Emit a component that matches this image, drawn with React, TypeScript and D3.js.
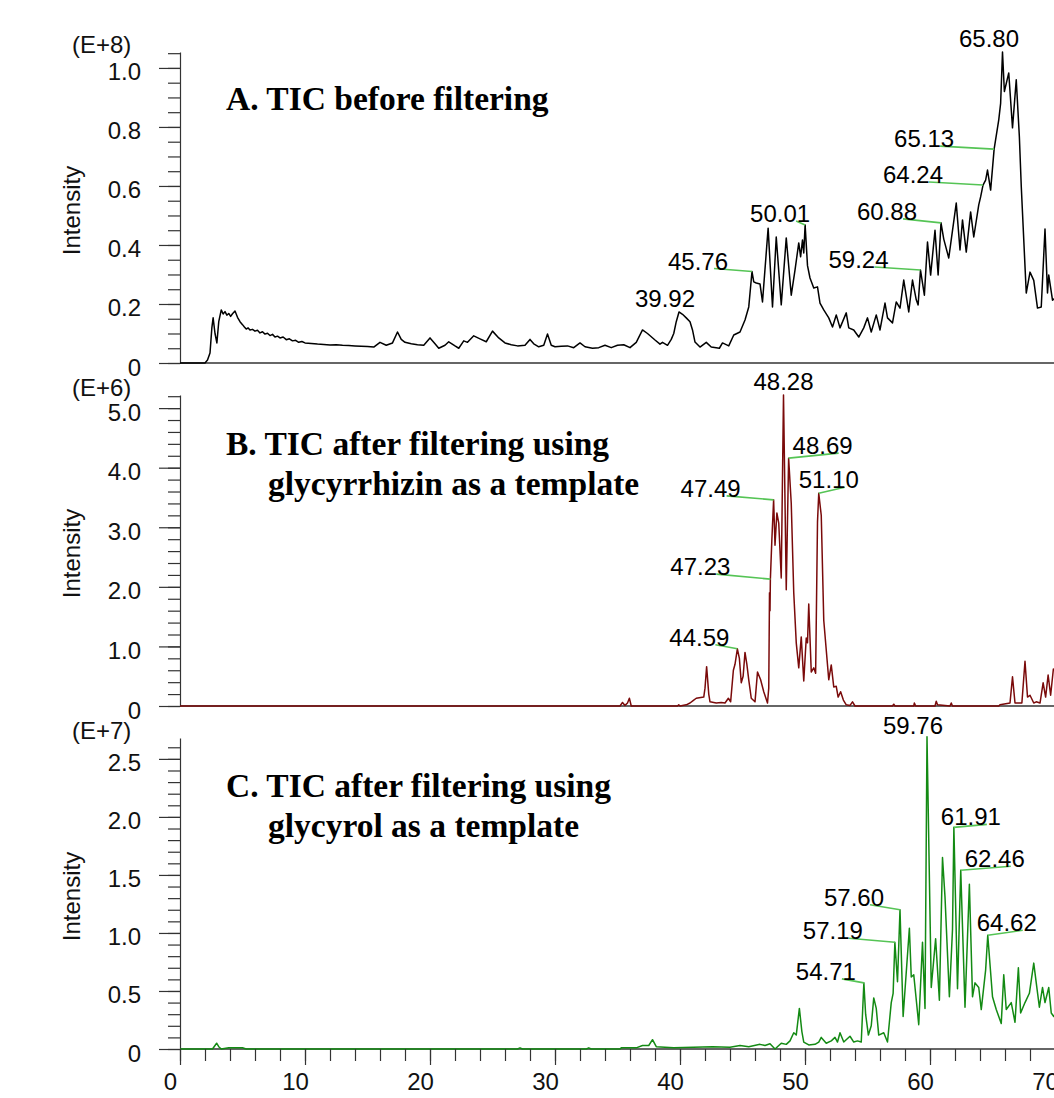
import React, { useRef, useEffect } from "react";
import * as d3 from "d3";

// retention time (min), intensity in panel units
const traceA: [number, number][] = [
  [0, 0], [2.0, 0], [2.2, 0.01], [2.4, 0.034], [2.55, 0.12], [2.65, 0.153], [2.8, 0.1], [2.95, 0.068],
  [3.1, 0.14], [3.3, 0.18], [3.45, 0.166], [3.6, 0.174], [3.75, 0.162], [3.9, 0.168], [4.05, 0.158], [4.2, 0.167],
  [4.4, 0.176], [4.6, 0.155], [4.8, 0.14], [5.0, 0.13], [5.15, 0.122], [5.3, 0.115], [5.45, 0.119], [5.6, 0.112],
  [5.8, 0.114], [6.0, 0.108], [6.2, 0.111], [6.4, 0.102], [6.6, 0.106], [6.8, 0.098], [7.0, 0.101], [7.2, 0.093],
  [7.4, 0.097], [7.6, 0.088], [7.8, 0.091], [8.0, 0.085], [8.25, 0.088], [8.5, 0.079], [8.75, 0.082], [9.0, 0.075],
  [9.25, 0.077], [9.5, 0.07], [9.75, 0.073], [10, 0.068], [10.5, 0.066], [11, 0.064], [11.5, 0.063], [12, 0.061],
  [12.5, 0.062], [13, 0.06], [13.5, 0.059], [14, 0.058], [14.5, 0.057], [15, 0.056], [15.5, 0.054], [16.0, 0.07],
  [16.5, 0.06], [17.0, 0.068], [17.4, 0.105], [17.7, 0.08], [18.0, 0.07], [18.5, 0.065], [19.0, 0.062], [19.5, 0.06],
  [20.0, 0.085], [20.4, 0.065], [20.7, 0.05], [21.2, 0.06], [21.5, 0.072], [22.0, 0.058], [22.3, 0.05], [22.7, 0.075],
  [23.0, 0.07], [23.5, 0.092], [24.0, 0.082], [24.5, 0.072], [25.0, 0.108], [25.5, 0.085], [26.0, 0.068], [26.5, 0.062],
  [27.0, 0.058], [27.6, 0.06], [28.0, 0.08], [28.3, 0.065], [28.7, 0.055], [29.1, 0.06], [29.4, 0.098], [29.7, 0.06],
  [30.0, 0.055], [30.5, 0.057], [31.0, 0.058], [31.5, 0.052], [32.0, 0.068], [32.4, 0.055], [33.0, 0.05], [33.5, 0.052],
  [34.0, 0.06], [34.5, 0.052], [35.0, 0.06], [35.5, 0.062], [36.0, 0.052], [36.5, 0.07], [37.0, 0.112], [37.4, 0.1],
  [38.0, 0.078], [38.4, 0.064], [38.6, 0.07], [39.0, 0.06], [39.3, 0.08], [39.5, 0.1], [39.7, 0.14], [39.92, 0.173],
  [40.2, 0.165], [40.5, 0.153], [40.8, 0.14], [41.0, 0.112], [41.2, 0.071], [41.6, 0.054], [42.1, 0.07], [42.5, 0.054],
  [43.15, 0.05], [43.4, 0.068], [43.9, 0.058], [44.3, 0.095], [44.8, 0.105], [45.2, 0.146], [45.5, 0.19], [45.76, 0.31],
  [45.9, 0.275], [46.1, 0.271], [46.4, 0.268], [46.6, 0.207], [47.05, 0.457], [47.4, 0.19], [47.7, 0.427], [48.1, 0.197],
  [48.5, 0.424], [48.9, 0.23], [49.2, 0.315], [49.5, 0.407], [49.65, 0.36], [49.8, 0.417], [49.9, 0.373], [50.01, 0.468],
  [50.2, 0.33], [50.4, 0.288], [50.7, 0.254], [51.0, 0.258], [51.2, 0.203], [51.5, 0.18], [51.9, 0.153], [52.2, 0.122],
  [52.5, 0.163], [52.8, 0.119], [53.3, 0.17], [53.5, 0.119], [53.9, 0.112], [54.3, 0.088], [54.7, 0.119], [55.0, 0.153],
  [55.3, 0.105], [55.7, 0.163], [56.0, 0.112], [56.4, 0.203], [56.6, 0.153], [57.0, 0.136], [57.3, 0.207], [57.6, 0.186],
  [57.9, 0.281], [58.3, 0.173], [58.6, 0.281], [58.9, 0.214], [59.05, 0.197], [59.24, 0.315], [59.55, 0.23], [59.8, 0.41],
  [60.05, 0.298], [60.4, 0.45], [60.65, 0.298], [60.88, 0.475], [61.1, 0.42], [61.5, 0.356], [62.1, 0.542], [62.4, 0.383],
  [62.6, 0.485], [62.9, 0.376], [63.25, 0.512], [63.5, 0.427], [63.9, 0.536], [64.05, 0.563], [64.24, 0.603], [64.45, 0.62],
  [64.6, 0.654], [64.85, 0.586], [65.13, 0.725], [65.5, 0.824], [65.65, 0.88], [65.8, 1.054], [65.95, 0.92], [66.3, 0.983],
  [66.6, 0.797], [66.9, 0.96], [67.15, 0.766], [67.3, 0.6], [67.7, 0.237], [68.0, 0.308], [68.3, 0.28], [68.6, 0.186],
  [68.9, 0.19], [69.2, 0.454], [69.4, 0.237], [69.5, 0.298], [69.8, 0.213], [70, 0.22],
];

const traceB: [number, number][] = [
  [0, 0], [35.2, 0], [35.4, 0.06], [35.6, 0.01], [35.8, 0.05], [35.95, 0.13], [36.1, 0], [39.8, 0], [39.9, 0.02],
  [40.0, 0], [40.5, 0.02], [40.8, 0.05], [41.1, 0.1], [41.3, 0.13], [41.9, 0.15], [42.0, 0.3], [42.13, 0.66],
  [42.3, 0.2], [42.4, 0.07], [42.9, 0.05], [43.3, 0.06], [43.6, 0.05], [43.87, 0.13], [44.05, 0.07], [44.27, 0.6],
  [44.4, 0.7], [44.59, 0.96], [44.75, 0.8], [44.9, 0.39], [45.05, 0.5], [45.2, 0.9], [45.35, 0.7], [45.5, 0.44],
  [45.7, 0.13], [46.0, 0.07], [46.2, 0.57], [46.45, 0.44], [46.7, 0.24], [47.0, 0.05], [47.1, 0.3], [47.16, 1.9],
  [47.2, 1.6], [47.23, 2.13], [47.35, 2.8], [47.49, 3.46], [47.6, 2.7], [47.75, 3.24], [47.9, 3.07], [48.1, 2.15],
  [48.28, 5.22], [48.5, 1.95], [48.69, 4.16], [48.9, 3.4], [49.1, 1.9], [49.3, 1.06], [49.5, 0.64], [49.7, 1.16],
  [49.9, 0.42], [50.1, 1.14], [50.2, 1.06], [50.3, 1.71], [50.5, 0.57], [50.7, 0.64], [50.85, 0.55], [51.0, 3.09],
  [51.1, 3.57], [51.3, 3.2], [51.5, 1.44], [51.7, 0.94], [51.9, 0.44], [52.1, 0.69], [52.3, 0.32], [52.5, 0.33],
  [52.65, 0.15], [52.85, 0.24], [53.07, 0.1], [53.3, 0.02], [53.6, 0.01], [53.8, 0.07], [54.0, 0], [57.0, 0],
  [57.1, 0.03], [57.2, 0], [58.7, 0], [58.75, 0.05], [58.85, 0], [60.4, 0], [60.5, 0.08], [60.6, 0.02], [61.6, 0],
  [61.7, 0.05], [61.8, 0], [65.5, 0], [65.6, 0.02], [66.4, 0.05], [66.6, 0.49], [66.8, 0.05], [67.35, 0.05],
  [67.6, 0.75], [67.8, 0.15], [68.0, 0.18], [68.3, 0.05], [68.5, 0.07], [68.8, 0.05], [69.05, 0.39], [69.25, 0.15],
  [69.45, 0.52], [69.65, 0.18], [69.87, 0.62], [70, 0.6],
];

const traceC: [number, number][] = [
  [0, 0], [2.6, 0], [2.8, 0.03], [2.93, 0.05], [3.1, 0.02], [3.3, 0], [3.9, 0.01], [5.0, 0.01], [5.3, 0],
  [27.0, 0], [27.2, 0.01], [27.4, 0], [32.5, 0], [32.7, 0.01], [32.9, 0], [35.2, 0], [35.3, 0.01], [36.5, 0.01],
  [37.0, 0.03], [37.5, 0.03], [37.8, 0.08], [38.1, 0.02], [39.5, 0.01], [42.6, 0.02], [44.0, 0.015], [44.8, 0.03],
  [45.5, 0.02], [46.4, 0.04], [46.8, 0.03], [47.2, 0.045], [47.6, 0], [48.1, 0.05], [48.5, 0.04], [48.8, 0.07],
  [49.1, 0.14], [49.3, 0.12], [49.55, 0.35], [49.75, 0.15], [49.9, 0.06], [50.3, 0.035], [50.8, 0.04], [51.1, 0.06],
  [51.3, 0.1], [51.7, 0.05], [52.1, 0.07], [52.4, 0.1], [52.6, 0.06], [52.8, 0.14], [53.1, 0.06], [53.6, 0.11],
  [53.9, 0.06], [54.2, 0.07], [54.5, 0.06], [54.71, 0.57], [54.85, 0.3], [55.07, 0.12], [55.3, 0.2], [55.5, 0.44],
  [55.7, 0.35], [55.9, 0.12], [56.3, 0.14], [56.6, 0.06], [56.9, 0.4], [57.05, 0.48], [57.19, 0.92], [57.4, 0.58],
  [57.6, 1.2], [57.85, 0.28], [58.35, 1.04], [58.5, 0.62], [58.7, 0.64], [59.1, 0.21], [59.4, 0.92], [59.6, 0.35],
  [59.76, 2.69], [60.1, 0.53], [60.45, 0.95], [60.75, 0.42], [61.0, 1.65], [61.2, 1.31], [61.55, 0.45], [61.8, 1.03],
  [61.91, 1.91], [62.2, 0.52], [62.46, 1.54], [62.8, 0.36], [63.15, 1.42], [63.4, 0.45], [63.6, 0.57], [63.9, 0.53],
  [64.1, 0.34], [64.45, 0.68], [64.62, 0.98], [65.0, 0.45], [65.3, 0.34], [65.7, 0.22], [65.9, 0.64], [66.1, 0.34],
  [66.5, 0.4], [66.8, 0.23], [67.07, 0.7], [67.25, 0.31], [67.6, 0.4], [67.95, 0.48], [68.3, 0.74], [68.5, 0.57],
  [68.75, 0.36], [69.0, 0.53], [69.2, 0.4], [69.5, 0.53], [69.7, 0.31], [69.9, 0.28], [70, 0.3],
];

const peaksA = [39.92, 45.76, 50.01, 59.24, 60.88, 64.24, 65.13, 65.8];
const peaksB = [44.59, 47.23, 47.49, 48.28, 48.69, 51.1];
const peaksC = [54.71, 57.19, 57.6, 59.76, 61.91, 62.46, 64.62];

const xTicks = [0, 10, 20, 30, 40, 50, 60, 70];

// label placement relative to its peak: [dx of text end, dy of baseline, leader line]
const labelPosA: [number, number, boolean][] = [
  [16, -5, false], [-24, -2, true], [5, -3, true], [-32, -2, true],
  [-24, -3, true], [-40, -2, true], [-40, -2, true], [16.5, -5, false],
];
const labelPosB: [number, number, boolean][] = [
  [-8, -3, true], [-40, -4, true], [-33, -3, true], [30, -5, false], [64, -4, true], [40, -5, true],
];
const labelPosC: [number, number, boolean][] = [
  [-8, -3, true], [-32, -3, true], [-16, -4, true], [16, -3, false], [47, -2, true], [64, -3, true], [49, -4, true],
];

const SANS = '"Liberation Sans", Arial, Helvetica, sans-serif';
const SERIF = '"Liberation Serif", "Times New Roman", serif';

const panels = [
  {
    trace: traceA, peaks: peaksA, pos: labelPosA, color: "#000000",
    base: 363, yMax: 1.054, major: d3.range(0, 1.01, 0.2), minor: d3.range(0, 1.06, 0.05),
    fmt: (d: number) => (d === 0 ? "0" : d3.format(".1f")(d)), exp: "(E+8)",
    title: ["A. TIC before filtering"], titleY: 110,
  },
  {
    trace: traceB, peaks: peaksB, pos: labelPosB, color: "#7a0a0a",
    base: 706, yMax: 5.22, major: d3.range(0, 5.01, 1), minor: d3.range(0, 5.21, 0.2),
    fmt: (d: number) => (d === 0 ? "0" : d3.format(".1f")(d)), exp: "(E+6)",
    title: ["B. TIC after filtering using", "glycyrrhizin as a template"], titleY: 455,
  },
  {
    trace: traceC, peaks: peaksC, pos: labelPosC, color: "#138a13",
    base: 1049, yMax: 2.68, major: d3.range(0, 2.51, 0.5), minor: d3.range(0, 2.61, 0.1),
    fmt: (d: number) => (d === 0 ? "0" : d3.format(".1f")(d)), exp: "(E+7)",
    title: ["C. TIC after filtering using", "glycyrol as a template"], titleY: 797,
  },
];

export default function App() {
  const svgRef = useRef<SVGSVGElement>(null);

  useEffect(() => {
    document.body.style.margin = "0";
    const svg = d3.select(svgRef.current);
    svg.selectAll("*").remove();

    const x = d3.scaleLinear().domain([0, 70]).range([180, 1055]);
    const axisColor = "#333";

    panels.forEach((p) => {
      const y = d3.scaleLinear().domain([0, p.yMax]).range([p.base, p.base - 311]);
      const g = svg.append("g");

      // y axis: minor then major ticks
      g.append("g")
        .attr("transform", "translate(180,0)")
        .call(d3.axisLeft(y).tickValues(p.minor).tickSize(12).tickSizeOuter(0).tickFormat(() => ""));
      const yMajor = g.append("g")
        .attr("transform", "translate(180,0)")
        .call(d3.axisLeft(y).tickValues(p.major).tickSize(21).tickPadding(18).tickFormat(p.fmt as any));
      yMajor.select(".domain").remove();
      yMajor.selectAll("text")
        .attr("dy", "0.5em")
        .style("font-family", SANS)
        .style("font-size", "24px")
        .attr("fill", "#111");
      g.selectAll(".tick line, .domain").attr("stroke", axisColor).attr("stroke-width", 1.2);

      // zero line
      g.append("line")
        .attr("x1", 180).attr("x2", 1055)
        .attr("y1", p.base).attr("y2", p.base)
        .attr("stroke", axisColor).attr("stroke-width", 1.5);

      // exponent and axis title
      g.append("text")
        .attr("x", 72).attr("y", p.base - 310)
        .style("font-family", SANS).style("font-size", "24px")
        .attr("fill", "#111")
        .text(p.exp);
      g.append("text")
        .attr("transform", `translate(80,${p.base - 155.5 + 3}) rotate(-90)`)
        .attr("text-anchor", "middle")
        .style("font-family", SANS).style("font-size", "24px")
        .attr("fill", "#111")
        .text("Intensity");

      // panel title
      p.title.forEach((line, i) => {
        g.append("text")
          .attr("x", i === 0 ? 226 : 268)
          .attr("y", p.titleY + i * 40)
          .style("font-family", SERIF).style("font-size", "33.5px").style("font-weight", "bold")
          .attr("fill", "#000")
          .text(line);
      });

      // trace
      const line = d3.line<[number, number]>().x((d) => x(d[0])).y((d) => y(d[1]));
      g.append("path")
        .datum(p.trace)
        .attr("d", line)
        .attr("fill", "none")
        .attr("stroke", p.color)
        .attr("stroke-width", 1.5)
        .attr("stroke-linejoin", "round");

      // peak labels
      p.peaks.forEach((t, i) => {
        const pt = p.trace.reduce((a, b) => (Math.abs(b[0] - t) < Math.abs(a[0] - t) ? b : a));
        const px = x(pt[0]);
        const py = y(pt[1]);
        const [dx, dy, leader] = p.pos[i];
        const tx = px + dx;
        const ty = py + dy;
        if (leader) {
          g.append("line")
            .attr("x1", tx - 14).attr("y1", ty - 1)
            .attr("x2", px).attr("y2", py)
            .attr("stroke", "#55c455").attr("stroke-width", 1.6);
        }
        g.append("text")
          .attr("x", tx).attr("y", ty)
          .attr("text-anchor", "end")
          .style("font-family", SANS).style("font-size", "24px")
          .attr("fill", "#000")
          .text(t.toFixed(2));
      });
    });

    // bottom time axis
    const xMinor = svg.append("g")
      .attr("transform", "translate(0,1049)")
      .call(d3.axisBottom(x).tickValues(d3.range(0, 71, 2)).tickSize(12).tickSizeOuter(0).tickFormat(() => ""));
    xMinor.select(".domain").remove();
    const xMajor = svg.append("g")
      .attr("transform", "translate(0,1049)")
      .call(d3.axisBottom(x).tickValues(xTicks).tickSize(16).tickPadding(8).tickSizeOuter(0).tickFormat(d3.format("d") as any));
    xMajor.select(".domain").remove();
    xMajor.selectAll("text")
      .attr("dx", "-10")
      .style("font-family", SANS)
      .style("font-size", "24px")
      .attr("fill", "#111");
    svg.selectAll(".tick line").attr("stroke", axisColor).attr("stroke-width", 1.2);
  }, []);

  return <svg ref={svgRef} width={1054} height={1098} style={{ display: "block", background: "#fff" }} />;
}
